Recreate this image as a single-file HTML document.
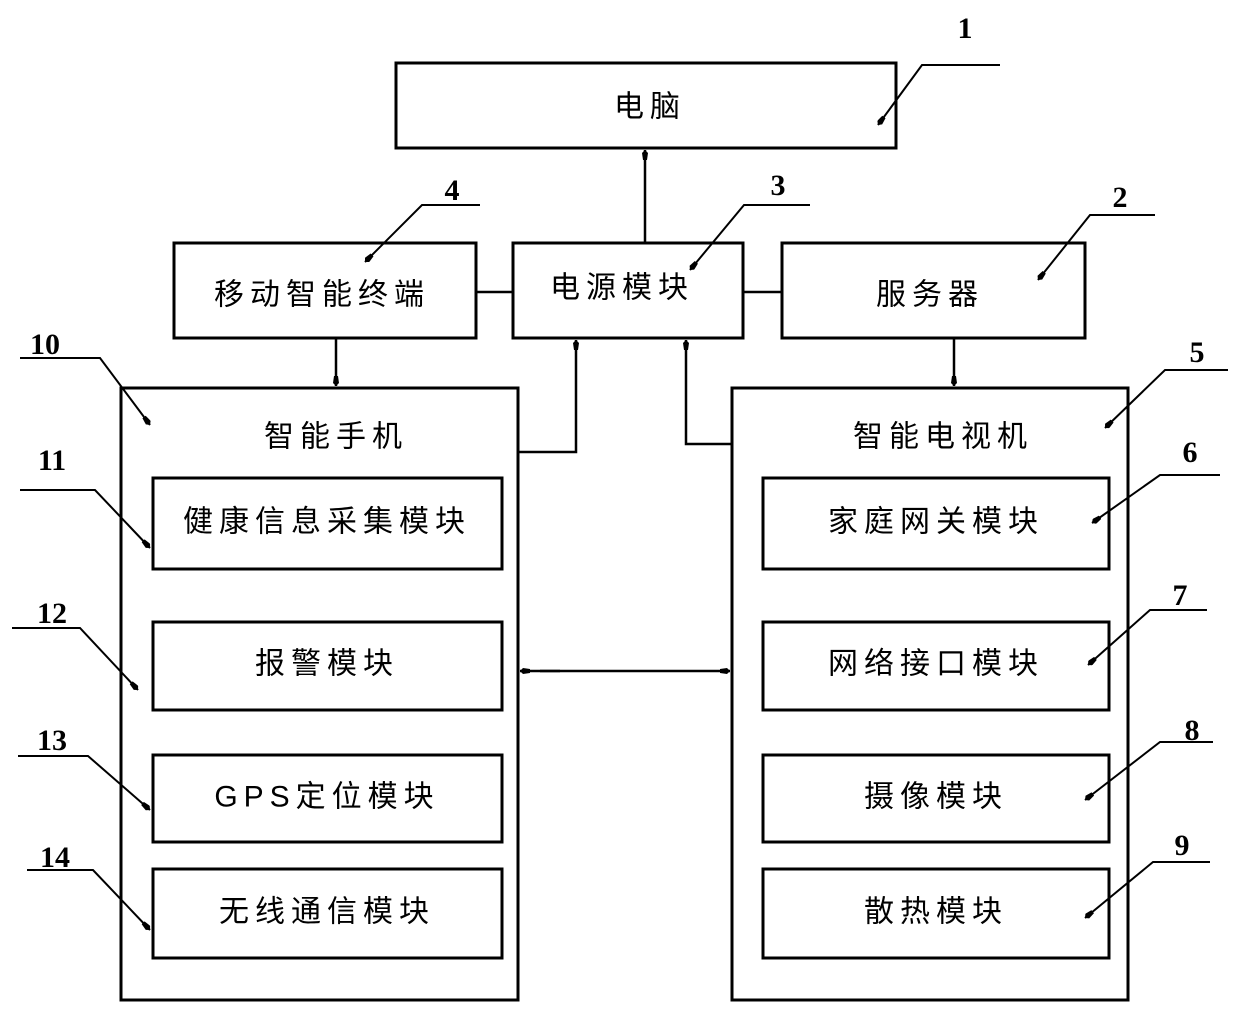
<!DOCTYPE html>
<html><head><meta charset="utf-8"><style>
html,body{margin:0;padding:0;background:#fff;}
svg{display:block;}
text{font-family:"Liberation Serif","Noto Serif CJK SC","Noto Sans CJK SC",serif;fill:#000;}
.t{font-size:30px;letter-spacing:6px;text-anchor:middle;dominant-baseline:central;font-family:"Liberation Sans","Noto Sans CJK SC",sans-serif;}
.n{font-size:30px;font-weight:bold;text-anchor:middle;}
</style></head><body>
<svg width="1240" height="1014" viewBox="0 0 1240 1014" xmlns="http://www.w3.org/2000/svg">
<defs>
<marker id="a" viewBox="0 0 10 6" refX="10" refY="3" markerWidth="10" markerHeight="6" markerUnits="userSpaceOnUse" orient="auto"><path d="M0,1 L7,0 L10,3 L7,6 L0,5 Z" fill="#000"/></marker>
</defs>
<g fill="none" stroke="#000" stroke-width="3">
<rect x="396" y="63" width="500" height="85"/>
<rect x="174" y="243" width="302" height="95"/>
<rect x="513" y="243" width="230" height="95"/>
<rect x="782" y="243" width="303" height="95"/>
<rect x="121" y="388" width="397" height="612"/>
<rect x="732" y="388" width="396" height="612"/>
<rect x="153" y="478" width="349" height="91"/>
<rect x="153" y="622" width="349" height="88"/>
<rect x="153" y="755" width="349" height="87"/>
<rect x="153" y="869" width="349" height="89"/>
<rect x="763" y="478" width="346" height="91"/>
<rect x="763" y="622" width="346" height="88"/>
<rect x="763" y="755" width="346" height="87"/>
<rect x="763" y="869" width="346" height="89"/>
</g>
<g fill="none" stroke="#000" stroke-width="2.5">
<line x1="645" y1="243" x2="645" y2="150" marker-end="url(#a)"/>
<line x1="476" y1="292" x2="513" y2="292"/>
<line x1="743" y1="292" x2="782" y2="292"/>
<line x1="336" y1="338" x2="336" y2="386" marker-end="url(#a)"/>
<line x1="954" y1="338" x2="954" y2="386" marker-end="url(#a)"/>
<polyline points="518,452 576,452 576,340" marker-end="url(#a)"/>
<polyline points="732,444 686,444 686,340" marker-end="url(#a)"/>
<line x1="560" y1="671" x2="520" y2="671" marker-end="url(#a)"/>
<line x1="540" y1="671" x2="730" y2="671" marker-end="url(#a)"/>
</g>
<g fill="none" stroke="#000" stroke-width="2">
<polyline points="1000,65 922,65 878,125" marker-end="url(#a)"/>
<polyline points="480,205 422,205 365,262" marker-end="url(#a)"/>
<polyline points="810,205 744,205 690,270" marker-end="url(#a)"/>
<polyline points="1155,215 1090,215 1038,280" marker-end="url(#a)"/>
<polyline points="20,358 100,358 150,425" marker-end="url(#a)"/>
<polyline points="20,490 95,490 150,548" marker-end="url(#a)"/>
<polyline points="12,628 80,628 138,690" marker-end="url(#a)"/>
<polyline points="18,756 88,756 150,810" marker-end="url(#a)"/>
<polyline points="27,870 93,870 150,930" marker-end="url(#a)"/>
<polyline points="1228,370 1165,370 1105,428" marker-end="url(#a)"/>
<polyline points="1220,475 1160,475 1092,523" marker-end="url(#a)"/>
<polyline points="1207,610 1150,610 1088,665" marker-end="url(#a)"/>
<polyline points="1213,742 1160,742 1085,800" marker-end="url(#a)"/>
<polyline points="1210,862 1153,862 1085,918" marker-end="url(#a)"/>
</g>
<text class="t" x="650" y="107">电脑</text>
<text class="t" x="322" y="295">移动智能终端</text>
<text class="t" x="622" y="288">电源模块</text>
<text class="t" x="930" y="295">服务器</text>
<text class="t" x="336" y="437">智能手机</text>
<text class="t" x="943" y="437">智能电视机</text>
<text class="t" x="327" y="522">健康信息采集模块</text>
<text class="t" x="327" y="664">报警模块</text>
<text class="t" x="327" y="797">GPS定位模块</text>
<text class="t" x="327" y="912">无线通信模块</text>
<text class="t" x="936" y="522">家庭网关模块</text>
<text class="t" x="936" y="664">网络接口模块</text>
<text class="t" x="936" y="797">摄像模块</text>
<text class="t" x="936" y="912">散热模块</text>
<text class="n" x="965" y="38">1</text>
<text class="n" x="452" y="200">4</text>
<text class="n" x="778" y="195">3</text>
<text class="n" x="1120" y="207">2</text>
<text class="n" x="45" y="354">10</text>
<text class="n" x="52" y="470">11</text>
<text class="n" x="52" y="623">12</text>
<text class="n" x="52" y="750">13</text>
<text class="n" x="55" y="867">14</text>
<text class="n" x="1197" y="362">5</text>
<text class="n" x="1190" y="462">6</text>
<text class="n" x="1180" y="605">7</text>
<text class="n" x="1192" y="740">8</text>
<text class="n" x="1182" y="855">9</text>
</svg>
</body></html>
